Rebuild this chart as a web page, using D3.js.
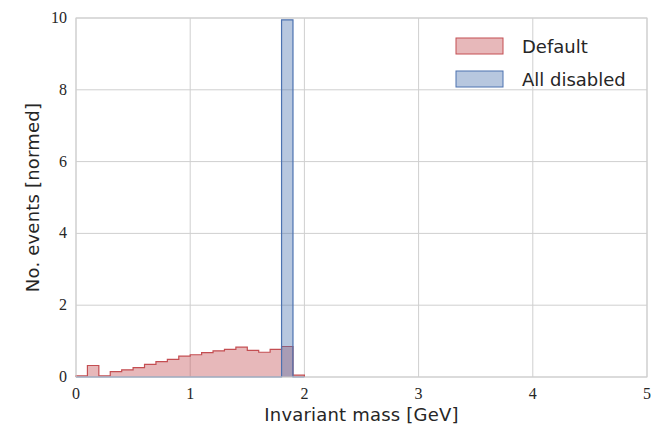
<!DOCTYPE html>
<html>
<head>
<meta charset="utf-8">
<script src="https://cdn.jsdelivr.net/npm/d3@7"></script>
<style>
  html, body { margin: 0; padding: 0; background: #fff; }
  svg { display: block; }
</style>
</head>
<body>
<svg id="chart" width="654" height="431"></svg>
<script>
// Histogram bins: lower edges, width 0.1 GeV
const binEdges = [0.0, 0.1, 0.2, 0.3, 0.4, 0.5, 0.6, 0.7, 0.8, 0.9,
                  1.0, 1.1, 1.2, 1.3, 1.4, 1.5, 1.6, 1.7, 1.8, 1.9];
const binWidth = 0.1;

// Normalised event counts per bin
const defaultValues = [0.03, 0.32, 0.03, 0.15, 0.20, 0.26, 0.35, 0.43, 0.49, 0.58,
                       0.62, 0.68, 0.73, 0.77, 0.83, 0.74, 0.69, 0.77, 0.85, 0.05];
const disabledValues = [0, 0, 0, 0, 0, 0, 0, 0, 0, 0,
                        0, 0, 0, 0, 0, 0, 0, 0, 9.95, 0];

const xTicks = [0, 1, 2, 3, 4, 5];
const yTicks = [0, 2, 4, 6, 8, 10];
const seriesNames = ["Default", "All disabled"];

const svg = d3.select("#chart");
const margin = { left: 76, right: 7, top: 18, bottom: 54 };
const W = 654, H = 431;

const x = d3.scaleLinear().domain([0, 5]).range([margin.left, W - margin.right]);
const y = d3.scaleLinear().domain([0, 10]).range([H - margin.bottom, margin.top]);

const grid = "#cfcfcf";

// Grid lines
svg.append("g").selectAll("line").data(xTicks).join("line")
  .attr("x1", d => x(d)).attr("x2", d => x(d))
  .attr("y1", y(0)).attr("y2", y(10))
  .attr("stroke", grid).attr("stroke-width", 1);
svg.append("g").selectAll("line").data(yTicks).join("line")
  .attr("x1", x(0)).attr("x2", x(5))
  .attr("y1", d => y(d)).attr("y2", d => y(d))
  .attr("stroke", grid).attr("stroke-width", 1);

// Step-filled histogram path
function stepPath(values) {
  let p = `M${x(binEdges[0])},${y(0)}`;
  values.forEach((v, i) => {
    p += `L${x(binEdges[i])},${y(v)}L${x(binEdges[i] + binWidth)},${y(v)}`;
  });
  p += `L${x(binEdges[binEdges.length - 1] + binWidth)},${y(0)}`;
  return p;
}

const series = [
  { name: seriesNames[0], values: defaultValues, fill: "rgba(196,78,82,0.4)", stroke: "#C44E52" },
  { name: seriesNames[1], values: disabledValues, fill: "rgba(76,114,176,0.4)", stroke: "#4C72B0" }
];

series.forEach(s => {
  svg.append("path")
    .attr("d", stepPath(s.values) + "Z")
    .attr("fill", s.fill)
    .attr("stroke", "none");
  svg.append("path")
    .attr("d", stepPath(s.values))
    .attr("fill", "none")
    .attr("stroke", s.stroke)
    .attr("stroke-width", 1.2)
    .attr("stroke-linejoin", "miter");
});

// Frame
svg.append("rect")
  .attr("x", x(0)).attr("y", y(10))
  .attr("width", x(5) - x(0)).attr("height", y(0) - y(10))
  .attr("fill", "none").attr("stroke", grid).attr("stroke-width", 1);

// Tick labels
const tickFont = "'Liberation Serif', 'DejaVu Serif', serif";
svg.append("g").selectAll("text").data(xTicks).join("text")
  .attr("x", d => x(d)).attr("y", y(0) + 22)
  .attr("text-anchor", "middle")
  .attr("font-family", tickFont).attr("font-size", 16).attr("fill", "#262626")
  .text(d => d);
svg.append("g").selectAll("text").data(yTicks).join("text")
  .attr("x", x(0) - 9).attr("y", d => y(d) + 5)
  .attr("text-anchor", "end")
  .attr("font-family", tickFont).attr("font-size", 16).attr("fill", "#262626")
  .text(d => d);

// Axis titles
const labelFont = "'DejaVu Sans', sans-serif";
svg.append("text")
  .attr("x", (x(0) + x(5)) / 2).attr("y", 421)
  .attr("text-anchor", "middle")
  .attr("font-family", labelFont).attr("font-size", 18)
  .attr("letter-spacing", 0.2).attr("fill", "#262626")
  .text("Invariant mass [GeV]");
svg.append("text")
  .attr("transform", `translate(39,${(y(0) + y(10)) / 2}) rotate(-90)`)
  .attr("text-anchor", "middle")
  .attr("font-family", labelFont).attr("font-size", 18)
  .attr("letter-spacing", 0.2).attr("fill", "#262626")
  .text("No. events [normed]");

// Legend
const legend = svg.append("g").selectAll("g").data(series).join("g")
  .attr("transform", (d, i) => `translate(456,${38 + i * 33})`);
legend.append("rect")
  .attr("width", 47).attr("height", 16)
  .attr("fill", d => d.fill).attr("stroke", d => d.stroke).attr("stroke-width", 1);
legend.append("text")
  .attr("x", 66).attr("y", 15)
  .attr("font-family", labelFont).attr("font-size", 18).attr("fill", "#262626")
  .text(d => d.name);
</script>
</body>
</html>
